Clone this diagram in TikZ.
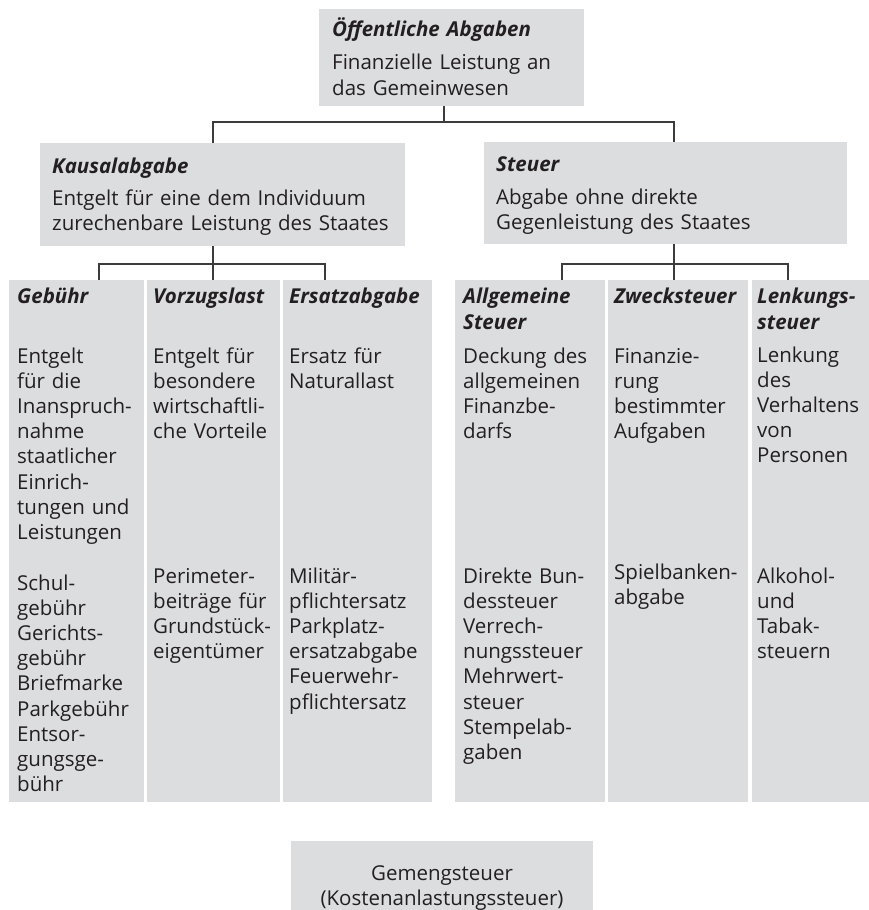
\documentclass[tikz,border=0pt]{standalone}
\usepackage{fontspec}
\setmainfont{Open Sans}
\usepackage{tikz}
\usetikzlibrary{calc,positioning}
\definecolor{boxgray}{RGB}{220,221,223}
\definecolor{ink}{RGB}{35,31,32}
\definecolor{linkgray}{RGB}{60,60,60}
\tikzset{
  box/.style={fill=boxgray,inner sep=0pt,outer sep=0pt,anchor=north west},
  head/.style={font=\fontsize{20.5}{26}\selectfont\bfseries\itshape,text=ink,
    anchor=base west,inner sep=0pt,text width=300pt,align=left},
  body/.style={font=\fontsize{20.5}{25.2}\selectfont,text=ink,
    anchor=base west,inner sep=0pt,text width=360pt,align=left},
  link/.style={draw=linkgray,line width=1.3pt}
}
\begin{document}
\begin{tikzpicture}[x=1pt,y=-1pt]
\useasboundingbox (0,0) rectangle (869,910);
% boxes
\node [box,minimum width=265,minimum height=97] (oeff) at (319,9) {};
\node [box,minimum width=365,minimum height=103] (kausal) at (40,143) {};
\node [box,minimum width=363,minimum height=102] (steuer) at (484,142) {};
\node [box,minimum width=135,minimum height=522] (gebuehr) at (9,280) {};
\node [box,minimum width=133,minimum height=522] (vorzug) at (147,280) {};
\node [box,minimum width=149,minimum height=522] (ersatz) at (283,280) {};
\node [box,minimum width=150,minimum height=522] (allg) at (455,280) {};
\node [box,minimum width=140,minimum height=522] (zweck) at (608,280) {};
\node [box,minimum width=117,minimum height=522] (lenk) at (752,280) {};
\node [box,minimum width=302,minimum height=94,align=center,text=ink,
  font=\fontsize{20.5}{25}\selectfont] (gemeng) at (291,841)
  {Gemengsteuer\\(Kostenanlastungssteuer)};
% connectors
\coordinate (topfork) at (444,122);
\coordinate (kfork) at (213,264);
\coordinate (sfork) at (674,264);
\draw [link] (oeff.south -| topfork) -- (topfork);
\draw [link] (kausal.north -| kfork) -- ++(0,-21) -| (steuer.north -| sfork);
\draw [link] (kausal.south -| kfork) -- (vorzug.north -| kfork);
\draw [link] ([xshift=90pt]gebuehr.north west) -- ++(0,-16) -| ([xshift=42pt]ersatz.north west);
\draw [link] (steuer.south -| sfork) -- (zweck.north -| sfork);
\draw [link] ([xshift=107pt]allg.north west) -- ++(0,-16) -| ([xshift=36pt]lenk.north west);
% upper texts
\node [head] (oeff-h) at (332,36) {Öffentliche Abgaben};
\node [body,font=\fontsize{20.5}{26}\selectfont] (oeff-b) at (332,69) {Finanzielle Leistung an\\das Gemeinwesen};
\node [head] (kausal-h) at (52,173) {Kausalabgabe};
\node [body,font=\fontsize{20.5}{25.5}\selectfont] (kausal-b) at (52,205) {Entgelt für eine dem Individuum\\zurechenbare Leistung des Staates};
\node [head] (steuer-h) at (496,171) {Steuer};
\node [body,font=\fontsize{20.5}{25.5}\selectfont] (steuer-b) at (496,204) {Abgabe ohne direkte\\Gegenleistung des Staates};
% columns
\node [head] (gebuehr-h) at (17,303) {Gebühr};
\node [body] (gebuehr-b) at (17,363) {Entgelt\\für die\\Inanspruch-\\nahme\\staatlicher\\Einrich-\\tungen und\\Leistungen};
\node [body] (gebuehr-x) at (17,590) {Schul-\\gebühr\\Gerichts-\\gebühr\\Briefmarke\\Parkgebühr\\Entsor-\\gungsge-\\bühr};
\node [head] (vorzug-h) at (153,303) {Vorzugslast};
\node [body] (vorzug-b) at (153,363) {Entgelt für\\besondere\\wirtschaftli-\\che Vorteile};
\node [body] (vorzug-x) at (153,583) {Perimeter-\\beiträge für\\Grundstück-\\eigentümer};
\node [head] (ersatz-h) at (289,303) {Ersatzabgabe};
\node [body] (ersatz-b) at (289,363) {Ersatz für\\Naturallast};
\node [body] (ersatz-x) at (289,583) {Militär-\\pflichtersatz\\Parkplatz-\\ersatzabgabe\\Feuerwehr-\\pflichtersatz};
\node [head] (allg-h) at (463,303) {Allgemeine\\Steuer};
\node [body] (allg-b) at (463,363) {Deckung des\\allgemeinen\\Finanzbe-\\darfs};
\node [body] (allg-x) at (463,583) {Direkte Bun-\\dessteuer\\Verrech-\\nungssteuer\\Mehrwert-\\steuer\\Stempelab-\\gaben};
\node [head] (zweck-h) at (614,303) {Zwecksteuer};
\node [body] (zweck-b) at (614,363) {Finanzie-\\rung\\bestimmter\\Aufgaben};
\node [body] (zweck-x) at (614,579) {Spielbanken-\\abgabe};
\node [head] (lenk-h) at (757,303) {Lenkungs-\\steuer};
\node [body] (lenk-b) at (757,362) {Lenkung\\des\\Verhaltens\\von\\Personen};
\node [body] (lenk-x) at (757,583) {Alkohol-\\und\\Tabak-\\steuern};
\end{tikzpicture}
\end{document}
